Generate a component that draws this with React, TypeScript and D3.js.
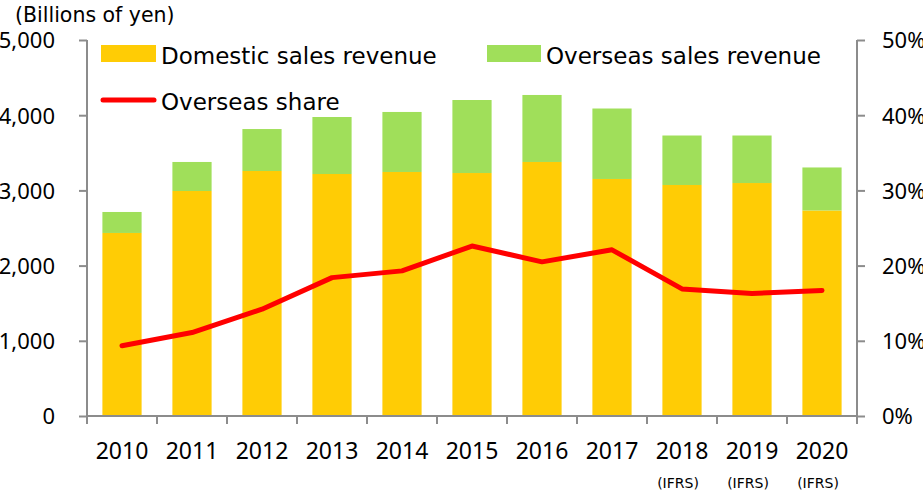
import { useEffect, useRef } from 'react';
import * as d3 from 'd3';

const years = ['2010', '2011', '2012', '2013', '2014', '2015', '2016', '2017', '2018', '2019', '2020'];
const notes = ['', '', '', '', '', '', '', '', '(IFRS)', '(IFRS)', '(IFRS)'];
const domestic = [2434, 2992, 3258, 3218, 3245, 3231, 3378, 3152, 3072, 3098, 2733];
const overseas = [279, 386, 558, 758, 798, 971, 891, 937, 658, 632, 572];
const share = [9.35, 11.1, 14.2, 18.4, 19.3, 22.6, 20.5, 22.1, 16.9, 16.3, 16.7];
const leftTicks = [0, 1000, 2000, 3000, 4000, 5000];
const rightTicks = [0, 10, 20, 30, 40, 50];

const YELLOW = '#FFCC05';
const GREEN = '#A0DF5A';
const RED = '#FF0000';
const AXIS = '#8C8C8C';
const FONT = '"Noto Sans", "DejaVu Sans", sans-serif';
const WIDE = '"DejaVu Sans", Verdana, sans-serif';

const App = () => {
  const svgRef = useRef<SVGSVGElement>(null);

  useEffect(() => {
    if (!svgRef.current) return;
    const svg = d3.select(svgRef.current);
    svg.selectAll('*').remove();

    const left = 87, right = 857, top = 40, bottom = 416;

    const x = d3.scaleBand()
      .domain(years)
      .range([left, right])
      .paddingInner(0.44)
      .paddingOuter(0.22);

    const y = d3.scaleLinear().domain([0, 5000]).range([bottom, top]);
    const y2 = d3.scaleLinear().domain([0, 50]).range([bottom, top]);

    // stacked bars
    const bars = svg.append('g');
    years.forEach((yr, i) => {
      bars.append('rect')
        .attr('x', x(yr)!)
        .attr('y', y(domestic[i]))
        .attr('width', x.bandwidth())
        .attr('height', bottom - y(domestic[i]))
        .attr('fill', YELLOW);
      bars.append('rect')
        .attr('x', x(yr)!)
        .attr('y', y(domestic[i] + overseas[i]))
        .attr('width', x.bandwidth())
        .attr('height', y(domestic[i]) - y(domestic[i] + overseas[i]))
        .attr('fill', GREEN);
    });

    // left axis
    svg.append('g')
      .attr('transform', `translate(${left},0)`)
      .call(d3.axisLeft(y).tickValues(leftTicks).tickSize(8).tickPadding(24).tickFormat(d => d3.format(',')(d as number)))
      .call(g => g.select('.domain').attr('stroke', AXIS).attr('stroke-width', 2).attr('d', `M0,${top}V${bottom}`))
      .call(g => g.selectAll('.tick line').attr('stroke', AXIS).attr('stroke-width', 2))
      .call(g => g.selectAll('.tick text').attr('fill', '#000').style('font-size', '22px').style('font-family', FONT).attr('dy', '0.36em'));

    // right axis
    svg.append('g')
      .attr('transform', `translate(${right},0)`)
      .call(d3.axisRight(y2).tickValues(rightTicks).tickSize(8).tickPadding(17).tickFormat(d => `${d}%`))
      .call(g => g.select('.domain').attr('stroke', AXIS).attr('stroke-width', 2).attr('d', `M0,${top}V${bottom}`))
      .call(g => g.selectAll('.tick line').attr('stroke', AXIS).attr('stroke-width', 2))
      .call(g => g.selectAll('.tick text').attr('fill', '#000').style('font-size', '22px').style('font-family', FONT).attr('dy', '0.36em'));

    // x axis
    const xAxis = svg.append('g');
    xAxis.append('line')
      .attr('x1', left).attr('x2', right)
      .attr('y1', bottom).attr('y2', bottom)
      .attr('stroke', AXIS).attr('stroke-width', 2);
    const boundaries = years.map(yr => x(yr)! - (x.step() - x.bandwidth()) / 2).concat([right]);
    boundaries.forEach(bx => {
      xAxis.append('line')
        .attr('x1', bx).attr('x2', bx)
        .attr('y1', bottom).attr('y2', bottom + 8)
        .attr('stroke', AXIS).attr('stroke-width', 2);
    });
    years.forEach((yr, i) => {
      const cx = x(yr)! + x.bandwidth() / 2;
      xAxis.append('text')
        .attr('x', cx).attr('y', 459)
        .attr('text-anchor', 'middle')
        .style('font-size', '23px').style('font-family', FONT)
        .text(yr);
      if (notes[i]) {
        xAxis.append('text')
          .attr('x', cx - 4).attr('y', 488)
          .attr('text-anchor', 'middle')
          .style('font-size', '14px').style('font-family', WIDE)
          .text(notes[i]);
      }
    });

    // overseas share line
    const line = d3.line<number>()
      .x((_, i) => x(years[i])! + x.bandwidth() / 2)
      .y(d => y2(d));
    svg.append('path')
      .datum(share)
      .attr('d', line)
      .attr('fill', 'none')
      .attr('stroke', RED)
      .attr('stroke-width', 5)
      .attr('stroke-linecap', 'round')
      .attr('stroke-linejoin', 'round');

    // units label
    svg.append('text')
      .attr('x', 15).attr('y', 22)
      .style('font-size', '20.5px').style('font-family', WIDE)
      .text('(Billions of yen)');

    // legend
    const legend = svg.append('g');
    legend.append('rect').attr('x', 101).attr('y', 45).attr('width', 55).attr('height', 17).attr('fill', YELLOW);
    legend.append('text').attr('x', 161).attr('y', 64)
      .style('font-size', '23px').style('font-family', WIDE)
      .text('Domestic sales revenue');
    legend.append('rect').attr('x', 487).attr('y', 45).attr('width', 54).attr('height', 17).attr('fill', GREEN);
    legend.append('text').attr('x', 546).attr('y', 64)
      .style('font-size', '23px').style('font-family', WIDE)
      .text('Overseas sales revenue');
    legend.append('line').attr('x1', 103).attr('x2', 154).attr('y1', 100).attr('y2', 100)
      .attr('stroke', RED).attr('stroke-width', 5).attr('stroke-linecap', 'round');
    legend.append('text').attr('x', 161).attr('y', 110)
      .style('font-size', '23px').style('font-family', WIDE)
      .text('Overseas share');
  }, []);

  return (
    <svg
      ref={svgRef}
      width={923}
      height={490}
      style={{ position: 'absolute', left: 0, top: 0, background: '#fff' }}
    />
  );
};

export default App;
